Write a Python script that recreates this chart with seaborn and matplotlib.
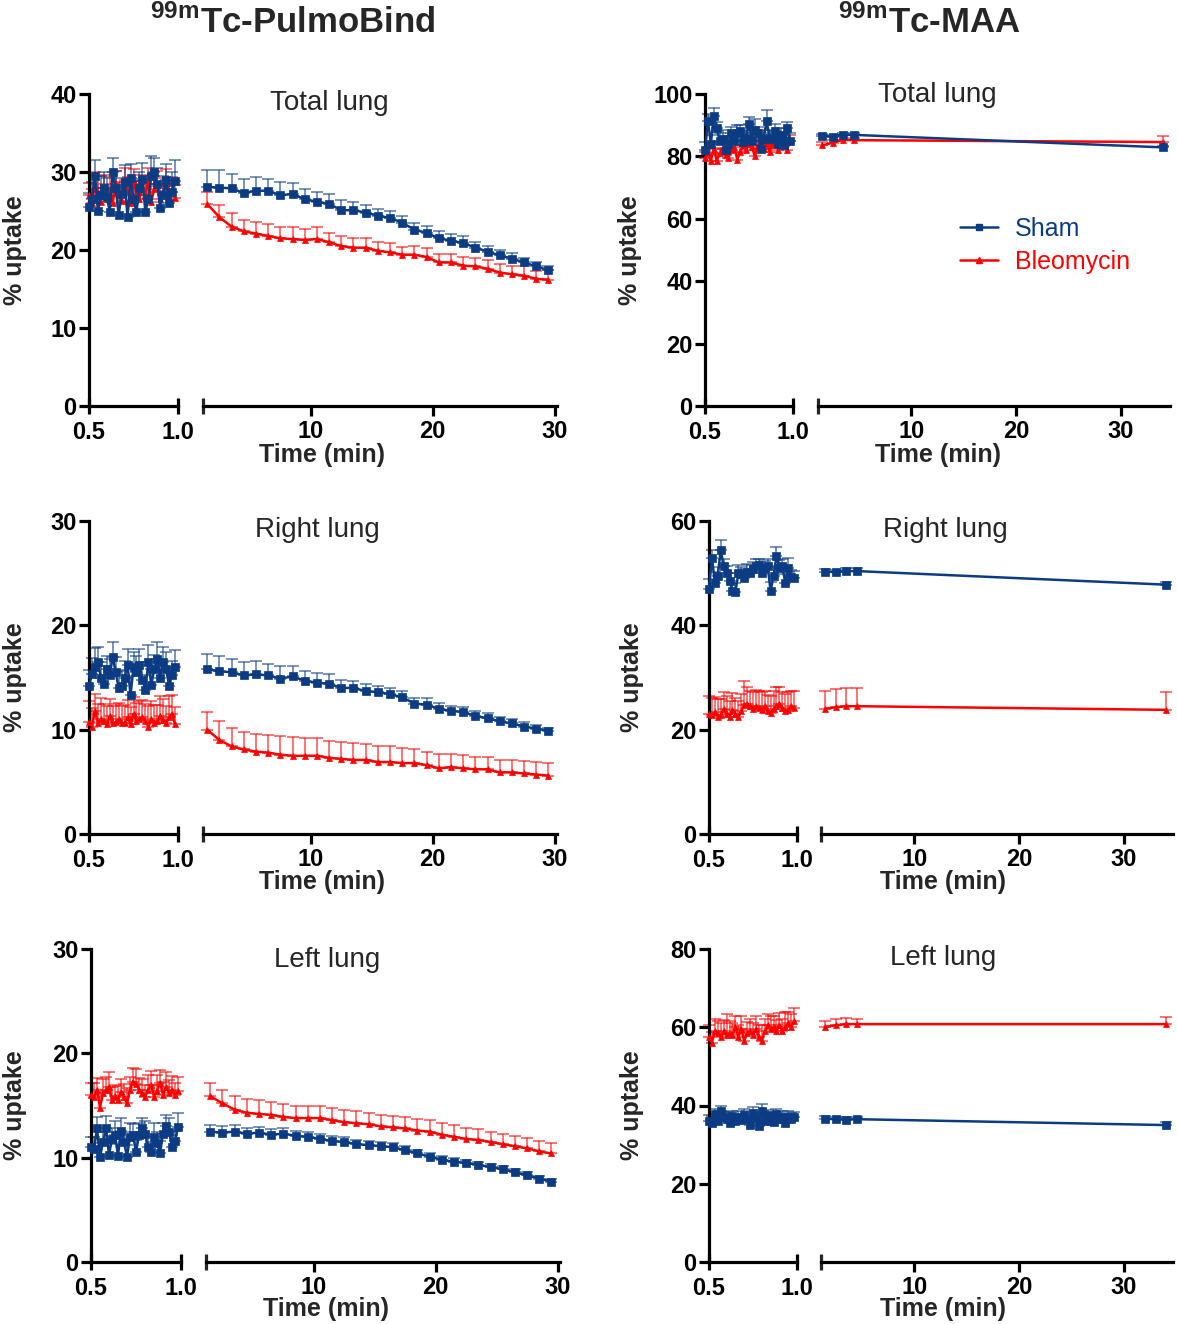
import numpy as np
import pandas as pd
import matplotlib
matplotlib.use("Agg")
import matplotlib.pyplot as plt
import seaborn as sns
from matplotlib.lines import Line2D

# ---------------- DATA ----------------
t_early = np.arange(30, 60) / 60.0          # 0.5 ... 0.983 min (1-s frames)
t_late_pb = np.arange(1.5, 30.0, 1.0)        # 1.5 ... 29.5 min
t_late_maa = [1.5, 2.5, 3.5, 4.5, 34.0]

# PulmoBind - total lung
pb_tot_sham_e = [25.5, 26.5, 29.5, 25.0, 27.0, 28.0, 26.8, 24.9, 30.0, 27.9, 24.5, 27.2, 28.7, 24.2, 29.2,
                 26.5, 24.9, 28.0, 29.1, 24.9, 26.5, 29.5, 30.0, 28.5, 25.4, 27.1, 29.0, 26.0, 27.5, 28.8]
pb_tot_sham_e_err = [1.8, 2.2, 2.0, 1.8, 2.5, 2.0, 2.4, 2.0, 1.8, 2.2, 2.5, 2.0, 2.2, 2.0, 1.8,
                     2.4, 2.2, 2.0, 2.0, 2.2, 2.0, 2.5, 1.8, 2.0, 2.2, 2.4, 2.0, 2.2, 2.5, 2.8]
pb_tot_bleo_e = [27.0, 26.0, 28.5, 27.5, 26.2, 28.0, 26.5, 27.8, 26.0, 28.5, 27.0, 26.3, 29.0, 27.5, 26.0,
                 28.8, 27.2, 26.5, 28.0, 27.0, 29.0, 26.2, 27.8, 28.5, 26.5, 27.3, 28.2, 26.8, 27.5, 26.7]
pb_tot_bleo_e_err = [1.6, 1.8, 1.5, 2.0, 1.7, 1.6, 1.9, 1.5, 1.8, 1.6, 1.7, 1.9, 1.5, 1.8, 2.0,
                     1.6, 1.7, 1.9, 1.6, 1.8, 1.5, 2.0, 1.7, 1.6, 1.8, 1.9, 2.2, 1.7, 1.8, 1.6]
pb_tot_sham_l = [28.1, 28.0, 27.9, 27.3, 27.6, 27.6, 27.0, 27.2, 26.5, 26.2, 25.9, 25.1, 25.1, 24.8, 24.4,
                 24.1, 23.5, 22.6, 22.2, 21.5, 21.2, 20.9, 20.3, 19.8, 19.3, 18.9, 18.4, 17.9, 17.4]
pb_tot_sham_l_err = [2.1, 2.2, 1.8, 1.8, 1.8, 1.5, 1.7, 1.4, 1.3, 1.3, 1.3, 1.3, 1.1, 1.0, 0.9,
                     0.9, 0.9, 0.8, 0.9, 0.9, 0.8, 0.9, 0.7, 0.7, 0.7, 0.7, 0.6, 0.6, 0.5]
pb_tot_bleo_l = [25.9, 24.2, 23.0, 22.4, 22.1, 21.8, 21.5, 21.4, 21.3, 21.4, 21.0, 20.5, 20.3, 20.3, 19.9,
                 19.7, 19.4, 19.4, 19.1, 18.4, 18.4, 18.0, 17.9, 17.6, 17.1, 16.9, 16.7, 16.3, 16.2]
pb_tot_bleo_l_err = [1.5, 1.6, 1.7, 1.4, 1.5, 1.5, 1.5, 1.5, 1.4, 1.5, 1.2, 1.3, 1.2, 1.2, 1.1,
                     1.2, 1.0, 1.1, 1.1, 1.1, 1.1, 1.1, 1.1, 1.1, 1.1, 1.0, 1.3, 1.0, 1.2]

# PulmoBind - right lung
pb_rt_sham_e = [14.2, 15.3, 16.0, 16.5, 15.0, 14.4, 15.8, 15.2, 17.0, 15.5, 14.0, 14.2, 15.0, 16.2, 13.3,
                16.0, 15.5, 16.2, 14.8, 13.8, 16.5, 14.3, 15.8, 16.8, 15.0, 16.5, 15.8, 14.2, 15.2, 16.0]
pb_rt_sham_e_err = [1.5, 1.6, 1.8, 1.4, 1.5, 1.7, 1.3, 1.6, 1.4, 1.5, 1.7, 1.4, 1.6, 1.5, 1.8,
                    1.4, 1.6, 1.5, 1.7, 1.4, 1.6, 1.5, 1.4, 1.6, 1.5, 1.4, 1.6, 1.5, 1.4, 1.6]
pb_rt_bleo_e = [10.7, 10.3, 11.8, 10.6, 11.0, 10.8, 10.5, 11.3, 10.6, 10.7, 11.0, 10.6, 10.6, 11.2, 10.5,
                11.5, 10.8, 11.0, 11.2, 10.8, 10.3, 11.0, 10.6, 10.8, 11.3, 10.9, 10.6, 11.2, 11.5, 10.5]
pb_rt_bleo_e_err = [2.0, 1.8, 1.6, 1.9, 2.0, 1.7, 1.8, 1.6, 1.7, 1.8, 1.6, 1.7, 1.8, 1.6, 1.7,
                    1.6, 1.8, 1.7, 1.6, 1.7, 2.0, 1.7, 1.8, 1.6, 1.9, 2.0, 1.7, 2.0, 1.8, 1.7]
pb_rt_sham_l = [15.8, 15.6, 15.5, 15.2, 15.3, 15.2, 14.9, 15.1, 14.7, 14.5, 14.4, 14.0, 14.0, 13.7, 13.6,
                13.4, 13.1, 12.5, 12.4, 12.0, 11.8, 11.7, 11.3, 11.1, 10.8, 10.6, 10.3, 10.1, 9.9]
pb_rt_sham_l_err = [1.5, 1.5, 1.3, 1.3, 1.3, 1.1, 1.2, 1.0, 0.9, 0.9, 0.9, 0.8, 0.7, 0.7, 0.6,
                    0.6, 0.6, 0.5, 0.6, 0.6, 0.5, 0.5, 0.5, 0.5, 0.4, 0.4, 0.4, 0.35, 0.25]
pb_rt_bleo_l = [10.0, 9.0, 8.4, 8.1, 7.9, 7.8, 7.6, 7.5, 7.5, 7.5, 7.3, 7.2, 7.1, 7.1, 6.9,
                6.9, 6.8, 6.8, 6.6, 6.3, 6.4, 6.3, 6.2, 6.2, 5.9, 5.9, 5.8, 5.7, 5.6]
pb_rt_bleo_l_err = [1.7, 1.8, 1.8, 1.7, 1.7, 1.7, 1.8, 1.8, 1.7, 1.7, 1.6, 1.6, 1.6, 1.5, 1.5,
                    1.5, 1.4, 1.3, 1.3, 1.4, 1.3, 1.3, 1.2, 1.2, 1.2, 1.2, 1.2, 1.2, 1.2]

# PulmoBind - left lung
pb_lt_sham_e = [11.0, 10.8, 12.8, 10.1, 11.5, 12.8, 10.3, 11.8, 12.2, 10.2, 12.6, 11.5, 10.1, 12.0, 12.2,
                10.5, 12.2, 12.8, 12.3, 11.0, 10.5, 12.0, 11.4, 10.4, 12.3, 13.0, 12.5, 11.0, 11.6, 12.9]
pb_lt_sham_e_err = [1.0, 1.2, 1.1, 1.3, 1.0, 1.2, 1.1, 1.0, 1.3, 1.1, 1.2, 1.0, 1.1, 1.3, 1.0,
                    1.2, 1.1, 1.0, 1.2, 1.1, 1.0, 1.3, 1.1, 1.2, 1.0, 1.1, 1.3, 1.2, 1.0, 1.4]
pb_lt_bleo_e = [16.0, 15.8, 16.5, 14.8, 16.2, 16.5, 16.8, 15.5, 15.9, 15.5, 16.3, 15.8, 15.2, 16.5, 17.3,
                17.1, 16.5, 16.2, 15.8, 16.5, 17.0, 15.8, 16.4, 17.2, 16.0, 16.8, 16.2, 16.5, 16.0, 16.4]
pb_lt_bleo_e_err = [1.2, 1.4, 1.1, 1.5, 1.3, 1.2, 1.4, 1.3, 1.1, 1.4, 1.2, 1.3, 1.5, 1.2, 1.3,
                    1.4, 1.1, 1.3, 1.2, 1.4, 1.3, 1.2, 1.5, 1.2, 1.3, 1.4, 1.2, 1.3, 1.2, 1.3]
pb_lt_sham_l = [12.5, 12.4, 12.5, 12.3, 12.4, 12.2, 12.3, 12.1, 12.0, 11.8, 11.6, 11.5, 11.3, 11.2, 11.1,
                11.0, 10.7, 10.4, 10.1, 9.8, 9.6, 9.5, 9.3, 9.1, 8.9, 8.6, 8.3, 8.0, 7.7]
pb_lt_sham_l_err = [0.6, 0.6, 0.6, 0.55, 0.55, 0.5, 0.5, 0.5, 0.5, 0.45, 0.45, 0.45, 0.4, 0.4, 0.4,
                    0.4, 0.4, 0.35, 0.35, 0.35, 0.35, 0.3, 0.3, 0.3, 0.3, 0.3, 0.3, 0.25, 0.25]
pb_lt_bleo_l = [15.9, 15.2, 14.6, 14.3, 14.2, 14.1, 13.9, 13.8, 13.8, 13.8, 13.6, 13.4, 13.3, 13.2, 13.0,
                12.9, 12.8, 12.6, 12.5, 12.2, 12.0, 11.8, 11.7, 11.5, 11.3, 11.1, 10.9, 10.6, 10.4]
pb_lt_bleo_l_err = [1.3, 1.3, 1.3, 1.3, 1.3, 1.2, 1.2, 1.2, 1.2, 1.2, 1.2, 1.2, 1.2, 1.1, 1.1,
                    1.1, 1.1, 1.1, 1.1, 1.1, 1.1, 1.0, 1.0, 1.0, 1.0, 1.0, 1.0, 1.0, 1.0]

# MAA - total lung
maa_tot_sham_e = [82.0, 91.5, 84.0, 93.0, 89.0, 85.0, 85.5, 82.0, 84.0, 87.5, 85.0, 87.5, 88.0, 84.5, 86.0,
                  90.5, 85.0, 88.5, 87.5, 82.5, 85.5, 91.5, 86.0, 85.5, 88.0, 84.0, 87.0, 83.5, 89.0, 85.0]
maa_tot_sham_e_err = [2.5, 2.0, 3.0, 2.5, 2.0, 2.5, 3.0, 2.0, 2.5, 2.0, 3.0, 2.5, 2.0, 3.0, 2.5,
                      2.0, 2.5, 3.5, 2.0, 2.5, 3.0, 3.5, 2.5, 2.0, 2.5, 3.0, 2.0, 2.5, 2.0, 2.5]
maa_tot_bleo_e = [79.5, 81.0, 78.5, 82.5, 78.5, 81.0, 82.5, 80.5, 79.5, 82.0, 83.0, 79.0, 81.5, 83.5, 82.0,
                  84.0, 83.0, 80.0, 83.5, 84.5, 82.5, 84.0, 81.5, 83.5, 84.0, 82.0, 85.5, 84.0, 82.0, 85.0]
maa_tot_bleo_e_err = [2.0, 1.8, 2.2, 2.0, 2.4, 1.8, 2.0, 2.2, 1.8, 2.0, 2.2, 2.4, 2.0, 1.8, 2.2,
                      2.0, 1.8, 2.4, 2.0, 2.2, 1.8, 2.0, 2.2, 2.0, 1.8, 2.4, 2.0, 2.2, 2.0, 1.8]
maa_tot_sham_l = [86.6, 86.3, 86.9, 86.9, 82.9]
maa_tot_sham_l_err = [0.6, 0.6, 0.6, 0.5, 0.5]
maa_tot_bleo_l = [83.5, 84.4, 85.3, 85.2, 84.6]
maa_tot_bleo_l_err = [1.2, 1.0, 1.4, 0.8, 1.8]

# MAA - right lung
maa_rt_sham_e = [47.0, 53.0, 48.2, 49.5, 54.5, 51.3, 50.0, 48.5, 46.6, 46.4, 50.0, 49.8, 49.0, 50.2, 50.0,
                 50.8, 51.3, 51.5, 50.0, 51.0, 51.3, 46.6, 49.5, 53.2, 51.0, 51.3, 48.2, 51.0, 49.2, 49.0]
maa_rt_sham_e_err = [1.8, 1.5, 2.0, 1.6, 1.8, 1.5, 1.4, 1.6, 1.5, 1.7, 1.6, 1.4, 1.8, 1.5, 1.6,
                     1.4, 1.5, 1.3, 1.6, 1.4, 1.5, 1.7, 1.6, 1.8, 1.5, 1.4, 1.6, 2.0, 1.5, 1.4]
maa_rt_bleo_e = [23.0, 22.8, 23.3, 22.5, 22.8, 24.0, 23.0, 22.5, 23.8, 23.0, 22.4, 23.5, 24.8, 25.0, 24.5,
                 24.0, 24.5, 24.2, 23.8, 24.5, 23.5, 23.2, 24.0, 24.5, 25.0, 24.2, 23.5, 23.8, 24.5, 24.2]
maa_rt_bleo_e_err = [3.5, 3.2, 3.0, 3.4, 3.0, 3.2, 3.4, 3.0, 3.2, 3.1, 3.0, 3.3, 4.5, 3.2, 3.0,
                     3.3, 3.1, 3.2, 3.4, 3.0, 3.2, 3.3, 3.5, 3.6, 3.2, 3.0, 3.3, 3.4, 3.0, 3.2]
maa_rt_sham_l = [50.3, 50.2, 50.4, 50.4, 47.8]
maa_rt_sham_l_err = [0.5, 0.5, 0.5, 0.5, 0.5]
maa_rt_bleo_l = [24.0, 24.3, 24.5, 24.5, 23.8]
maa_rt_bleo_l_err = [3.4, 3.4, 3.4, 3.4, 3.4]

# MAA - left lung
maa_lt_sham_e = [36.0, 35.5, 37.8, 36.0, 38.5, 37.0, 36.5, 35.5, 37.2, 36.0, 37.0, 36.2, 37.5, 36.5, 35.0,
                 38.0, 36.8, 34.8, 38.5, 36.0, 37.5, 36.0, 35.8, 37.8, 36.5, 37.0, 35.5, 37.0, 36.5, 37.0]
maa_lt_sham_e_err = [1.5, 1.8, 1.4, 1.6, 1.5, 1.4, 1.8, 1.5, 1.4, 1.6, 1.5, 1.4, 1.6, 2.0, 1.5,
                     1.6, 1.4, 1.5, 1.8, 1.5, 1.4, 1.6, 1.5, 1.4, 1.6, 1.5, 1.4, 1.6, 1.5, 1.4]
maa_lt_bleo_e = [57.5, 56.0, 59.0, 58.5, 57.5, 59.0, 58.0, 58.5, 58.0, 60.0, 57.5, 59.5, 56.5, 58.5, 59.0,
                 58.0, 59.5, 57.5, 56.5, 59.0, 60.5, 59.5, 60.0, 59.0, 60.5, 59.0, 60.0, 61.0, 60.0, 61.5]
maa_lt_bleo_e_err = [3.0, 2.8, 3.2, 3.0, 3.5, 2.8, 5.5, 3.0, 3.2, 2.8, 3.0, 3.5, 3.0, 2.8, 3.2,
                     3.0, 3.5, 3.0, 4.0, 3.2, 3.0, 3.5, 3.0, 2.8, 3.2, 3.0, 4.0, 3.0, 3.5, 3.5]
maa_lt_sham_l = [36.6, 36.5, 36.4, 36.5, 35.0]
maa_lt_sham_l_err = [0.6, 0.6, 0.6, 0.6, 0.7]
maa_lt_bleo_l = [60.1, 60.5, 60.8, 60.8, 60.8]
maa_lt_bleo_l_err = [1.5, 1.5, 1.5, 1.2, 1.8]

groups = ["Sham", "Bleomycin"]
row_titles = ["Total lung", "Right lung", "Left lung"]
col_titles = [r"$^{\mathbf{99m}}$Tc-PulmoBind", r"$^{\mathbf{99m}}$Tc-MAA"]

# ---------------- STYLE ----------------
sns.set_theme(style="white")
plt.rcParams["font.family"] = ["Liberation Sans", "DejaVu Sans"]
plt.rcParams["mathtext.fontset"] = "custom"
plt.rcParams["mathtext.rm"] = "Liberation Sans"
plt.rcParams["mathtext.bf"] = "Liberation Sans:bold"

BLUE = "#0b3c83"
RED = "#ff0000"
W, H = 1177, 1324
fig = plt.figure(figsize=(W / 100, H / 100), dpi=100)
fig.patch.set_facecolor("white")

SP = 2.3
TICKFS = 17


def add_ax(x0, x1, y0, y1):
    return fig.add_axes([x0 / W, 1 - y1 / H, (x1 - x0) / W, (y1 - y0) / H])


def plot_series(ax, t, vals, errs, color, marker, ms):
    ax.errorbar(t, vals, yerr=[np.zeros(len(errs)), errs], fmt="none", ecolor=color,
                alpha=0.55, elinewidth=1.4, capsize=4, capthick=1.4, zorder=2, clip_on=False)
    df = pd.DataFrame({"t": t, "v": vals})
    sns.lineplot(data=df, x="t", y="v", ax=ax, color=color, marker=marker, markersize=ms,
                 markeredgewidth=0.5, markeredgecolor=color, linewidth=1.8, zorder=3,
                 clip_on=False, legend=False)


def panel(lx, rx, y0, y1, ymax, ystep, xr_lim, early, late, t_late):
    axl = add_ax(lx[0], lx[1], y0, y1)
    axr = add_ax(rx[0], rx[1], y0, y1)

    (sb, sbe, bb, bbe) = early
    plot_series(axl, t_early, bb, bbe, RED, "^", 5)
    plot_series(axl, t_early, sb, sbe, BLUE, "s", 5.5)
    (sl, sle, bl, ble) = late
    plot_series(axr, t_late, bl, ble, RED, "^", 5)
    plot_series(axr, t_late, sl, sle, BLUE, "s", 5.5)

    for ax in (axl, axr):
        ax.set_facecolor("none")
        ax.set_ylim(0, ymax)
        for s in ("top", "right"):
            ax.spines[s].set_visible(False)
        ax.spines["bottom"].set_linewidth(SP)
        ax.spines["bottom"].set_color("black")
        ax.set_xlabel("")
        ax.set_ylabel("")
        ax.grid(False)
    axl.spines["left"].set_linewidth(SP)
    axl.spines["left"].set_color("black")
    axr.spines["left"].set_visible(False)

    axl.set_xlim(0.5, 1.0)
    axl.set_xticks([0.5, 1.0])
    axl.set_xticklabels(["0.5", "1.0"])
    yt = np.arange(0, ymax + 0.1, ystep)
    axl.set_yticks(yt)
    axl.set_yticklabels([f"{v:g}" for v in yt])
    axl.tick_params(axis="x", direction="inout", length=11, width=SP, labelsize=TICKFS, pad=5,
                    bottom=True, colors="black")
    axl.tick_params(axis="y", direction="out", length=7, width=SP, labelsize=TICKFS, pad=2,
                    left=True, colors="black")
    for lab in axl.get_xticklabels() + axl.get_yticklabels():
        lab.set_fontweight("bold")

    axr.set_xlim(*xr_lim)
    axr.set_xticks([10, 20, 30])
    axr.set_xticklabels(["10", "20", "30"])
    axr.set_xticks([xr_lim[0]], minor=True)
    axr.set_yticks([])
    axr.tick_params(axis="x", which="major", direction="out", length=7, width=SP,
                    labelsize=TICKFS, pad=3, bottom=True, colors="black")
    axr.tick_params(axis="x", which="minor", direction="inout", length=11, width=SP, bottom=True)
    for lab in axr.get_xticklabels():
        lab.set_fontweight("bold")
    return axl, axr


def ftext(x, y, s, **kw):
    fig.text(x / W, 1 - y / H, s, ha="center", va="center", **kw)


PB_LIM = (1.15, 30.2)
MAA_LIM = (1.1, 34.7)

# Row 1
panel((89, 178), (203, 557), 94, 406, 40, 10, PB_LIM,
      (pb_tot_sham_e, pb_tot_sham_e_err, pb_tot_bleo_e, pb_tot_bleo_e_err),
      (pb_tot_sham_l, pb_tot_sham_l_err, pb_tot_bleo_l, pb_tot_bleo_l_err), t_late_pb)
panel((705, 793), (818, 1170), 94, 406, 100, 20, MAA_LIM,
      (maa_tot_sham_e, maa_tot_sham_e_err, maa_tot_bleo_e, maa_tot_bleo_e_err),
      (maa_tot_sham_l, maa_tot_sham_l_err, maa_tot_bleo_l, maa_tot_bleo_l_err), t_late_maa)
# Row 2
panel((89, 178), (203, 557), 521, 834, 30, 10, PB_LIM,
      (pb_rt_sham_e, pb_rt_sham_e_err, pb_rt_bleo_e, pb_rt_bleo_e_err),
      (pb_rt_sham_l, pb_rt_sham_l_err, pb_rt_bleo_l, pb_rt_bleo_l_err), t_late_pb)
panel((709, 797), (821, 1173), 521, 834, 60, 20, MAA_LIM,
      (maa_rt_sham_e, maa_rt_sham_e_err, maa_rt_bleo_e, maa_rt_bleo_e_err),
      (maa_rt_sham_l, maa_rt_sham_l_err, maa_rt_bleo_l, maa_rt_bleo_l_err), t_late_maa)
# Row 3
panel((91, 181), (206, 560), 949, 1262, 30, 10, PB_LIM,
      (pb_lt_sham_e, pb_lt_sham_e_err, pb_lt_bleo_e, pb_lt_bleo_e_err),
      (pb_lt_sham_l, pb_lt_sham_l_err, pb_lt_bleo_l, pb_lt_bleo_l_err), t_late_pb)
panel((709, 797), (821, 1173), 949, 1262, 80, 20, MAA_LIM,
      (maa_lt_sham_e, maa_lt_sham_e_err, maa_lt_bleo_e, maa_lt_bleo_e_err),
      (maa_lt_sham_l, maa_lt_sham_l_err, maa_lt_bleo_l, maa_lt_bleo_l_err), t_late_maa)

# Column headers
ftext(293, 22, col_titles[0], fontsize=25, fontweight="bold")
ftext(929, 22, col_titles[1], fontsize=25, fontweight="bold")

# Row titles
for (x, y, s) in [(329, 103, row_titles[0]), (937, 95, row_titles[0]),
                  (317, 530, row_titles[1]), (945, 530, row_titles[1]),
                  (327, 960, row_titles[2]), (943, 958, row_titles[2])]:
    ftext(x, y, s, fontsize=20)

# Axis labels
for (x, y) in [(322, 455), (938, 455), (322, 882), (943, 882), (326, 1309), (943, 1309)]:
    ftext(x, y, "Time (min)", fontsize=18, fontweight="bold")
for (x, y) in [(15, 250), (630, 250), (15, 677), (632, 677), (15, 1105), (632, 1105)]:
    ftext(x, y, "% uptake", fontsize=18, fontweight="bold", rotation=90)

# Legend
handles = [Line2D([0], [0], color=BLUE, marker="s", markersize=5, linewidth=1.8),
           Line2D([0], [0], color=RED, marker="^", markersize=4.5, linewidth=1.8)]
leg = fig.legend(handles, groups, loc="upper left", bbox_to_anchor=(960 / W, 1 - 217 / H),
                 frameon=False, fontsize=18, handlelength=1.5, handletextpad=0.7,
                 labelspacing=0.35, borderpad=0, borderaxespad=0, labelcolor="linecolor")

fig.savefig("out.png", dpi=100, facecolor="white")
